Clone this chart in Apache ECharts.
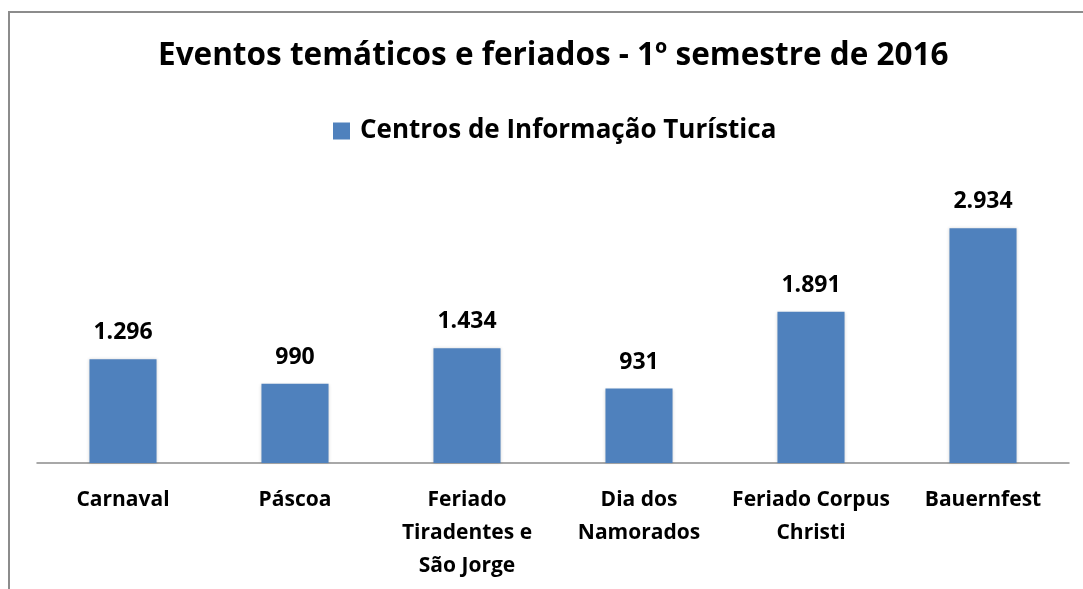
<!DOCTYPE html>
<html>
<head>
<meta charset="utf-8">
<script src="https://cdn.jsdelivr.net/npm/echarts@6/dist/echarts.min.js"></script>
<style>
  html, body { margin: 0; padding: 0; background: #fff; }
  #chart { width: 1083px; height: 589px; }
</style>
</head>
<body>
<div id="chart"></div>
<script>
const categories = [
  'Carnaval',
  'Páscoa',
  'Feriado\nTiradentes e\nSão Jorge',
  'Dia dos\nNamorados',
  'Feriado Corpus\nChristi',
  'Bauernfest'
]
const seriesName = 'Centros de Informação Turística'
const values = [1296, 990, 1434, 931, 1891, 2934]

const fontFamily = '"Open Sans", "Noto Sans", sans-serif'
// formato pt-BR: 1.296
const fmt = (v) => String(v).replace(/\B(?=(\d{3})+(?!\d))/g, '.')

const chart = echarts.init(document.getElementById('chart'))
chart.setOption({
  animation: false,
  backgroundColor: '#fff',
  title: {
    text: 'Eventos temáticos e feriados - 1º semestre de 2016',
    left: 153,
    top: 35,
    textStyle: { fontFamily, fontSize: 31.5, fontWeight: 'bold', color: '#000' }
  },
  legend: {
    data: [seriesName],
    top: 113,
    left: 328,
    icon: 'rect',
    itemWidth: 17,
    itemHeight: 17,
    itemGap: 10,
    textStyle: {
      fontFamily,
      fontSize: 26,
      fontWeight: 'bold',
      color: '#000',
      padding: [0, 0, 0, 5]
    }
  },
  grid: { left: 37, right: 14, top: 183, bottom: 126 },
  xAxis: {
    type: 'category',
    data: categories,
    axisLine: { lineStyle: { color: '#8c8c8c', width: 1.5 } },
    axisTick: { show: false },
    axisLabel: {
      interval: 0,
      margin: 21,
      lineHeight: 33,
      fontFamily,
      fontSize: 21,
      fontWeight: 'bold',
      color: '#000'
    }
  },
  yAxis: {
    type: 'value',
    min: 0,
    max: 3500,
    show: false,
    splitLine: { show: false }
  },
  series: [
    {
      name: seriesName,
      type: 'bar',
      data: values,
      barWidth: '39%',
      itemStyle: {
        color: '#4f81bd',
        shadowColor: 'rgba(0,0,0,0.15)',
        shadowBlur: 3
      },
      label: {
        show: true,
        position: 'top',
        distance: 15,
        formatter: (p) => fmt(p.value),
        fontFamily,
        fontSize: 23,
        fontWeight: 'bold',
        color: '#000'
      }
    }
  ],
  graphic: [
    {
      type: 'polyline',
      shape: { points: [[9, 589], [9, 12], [1083, 12]] },
      style: { stroke: '#8c8c8c', lineWidth: 2, fill: null }
    }
  ]
})
</script>
</body>
</html>
